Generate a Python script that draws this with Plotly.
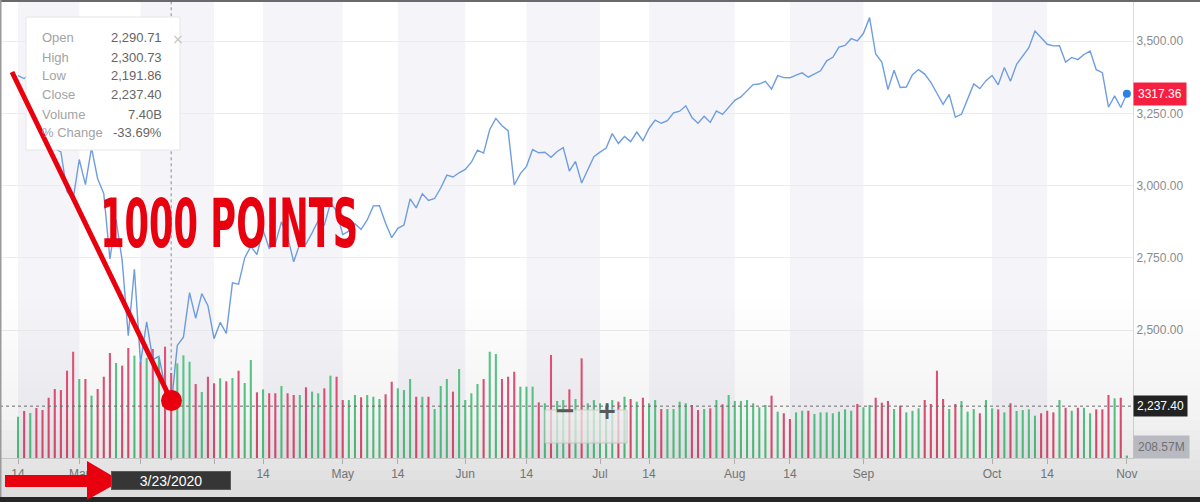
import plotly.graph_objects as go
import pandas as pd

# ---------------- data ----------------
market_holidays = ["2020-02-17", "2020-04-10", "2020-05-25", "2020-07-03", "2020-09-07"]
dates = [d.strftime("%Y-%m-%d") for d in pd.bdate_range("2020-02-14", "2020-11-02")
         if d.strftime("%Y-%m-%d") not in market_holidays]

close_values = [
    3380.16, 3370.29, 3386.15, 3373.23, 3337.75, 3225.89, 3128.21, 3116.39, 2978.76, 2954.22,
    3090.23, 3003.37, 3130.12, 3023.94, 2972.37, 2746.56, 2882.23, 2741.38, 2480.64, 2711.02,
    2386.13, 2529.19, 2398.10, 2409.39, 2304.92, 2237.40, 2447.33, 2475.56, 2630.07, 2541.47,
    2626.65, 2584.59,
    2470.50, 2526.90, 2488.65, 2663.68, 2659.41, 2749.98, 2789.82, 2761.63, 2846.06, 2783.36,
    2799.55, 2874.56, 2823.16, 2736.56, 2799.31, 2797.80, 2836.74, 2878.48, 2863.39, 2939.51,
    2912.43,
    2830.71, 2842.74, 2868.44, 2848.42, 2881.19, 2929.80, 2930.32, 2870.12, 2820.00, 2852.50,
    2863.70, 2953.91, 2922.94, 2971.61, 2948.51, 2955.45, 2991.77, 3036.13, 3029.73, 3044.31,
    3055.73, 3080.82, 3122.87, 3112.35, 3193.93, 3232.39, 3207.18, 3190.14, 3002.10, 3041.31,
    3066.59, 3124.74, 3113.49, 3115.34, 3097.74, 3117.86, 3131.29, 3050.33, 3083.76, 3009.05,
    3053.24, 3100.29,
    3115.86, 3130.01, 3179.72, 3145.32, 3169.94, 3152.05, 3185.04, 3155.22, 3197.52, 3226.56,
    3215.57, 3224.73, 3251.84, 3257.30, 3276.02, 3235.66, 3215.63, 3239.41, 3218.44, 3258.44,
    3246.22, 3271.12,
    3294.61, 3306.51, 3327.77, 3349.16, 3351.28, 3360.47, 3333.69, 3380.35, 3373.43, 3372.85,
    3381.99, 3389.78, 3374.85, 3385.51, 3397.16, 3431.28, 3443.62, 3478.73, 3484.55, 3508.01,
    3500.31,
    3526.65, 3580.84, 3455.06, 3426.96, 3331.84, 3398.96, 3339.19, 3340.97, 3383.54, 3401.20,
    3385.49, 3357.01, 3319.47, 3281.06, 3315.57, 3236.92, 3246.59, 3298.46, 3351.60, 3335.47,
    3363.00,
    3380.80, 3348.42, 3408.60, 3360.97, 3419.44, 3446.83, 3477.14, 3534.22, 3511.93, 3488.67,
    3483.34, 3483.81, 3426.92, 3443.12, 3435.56, 3453.49, 3465.39, 3400.97, 3390.68, 3271.03,
    3310.11, 3269.96,
    3317.36,
]

# volume in billions
volume_values = [
    3.59, 4.09, 3.91, 4.35, 4.17, 5.24, 6.00, 5.91, 7.59, 9.24,
    6.87, 6.87, 5.42, 6.00, 7.07, 9.13, 8.26, 8.03, 9.57, 8.90,
    8.37, 8.70, 9.48, 8.70, 9.68, 7.40, 8.23, 8.93, 8.37, 6.43,
    5.74, 7.07, 6.50, 6.93, 6.67, 6.96, 7.59, 6.52, 8.52, 5.71,
    5.97, 5.63, 5.63, 6.26, 5.63, 5.48, 5.48, 6.15, 5.77, 5.63,
    6.06, 7.16, 7.07, 5.04, 5.04, 5.48, 5.28, 5.48, 5.33, 5.13,
    5.54, 6.63, 6.06, 5.91, 6.87, 5.33, 5.33, 5.33, 4.26, 6.26,
    6.87, 5.77, 7.74, 5.04, 5.63, 6.43, 6.87, 9.24, 9.04, 6.87,
    7.07, 7.50, 6.20, 6.20, 6.20, 4.84, 4.76, 8.96, 4.96, 5.04,
    5.97, 5.13, 8.67, 4.76, 5.04, 4.76, 4.55, 5.04, 4.90, 5.33,
    5.13, 4.90, 5.24, 4.76, 5.04, 4.26, 4.26, 4.26, 4.90, 4.76,
    4.61, 4.17, 4.26, 4.32, 5.04, 4.67, 5.48, 4.96, 4.96, 5.04,
    4.76, 4.41, 4.61, 5.42, 4.03, 3.89, 3.39, 3.97, 4.11, 4.11,
    3.83, 3.97, 3.97, 3.89, 4.03, 4.23, 4.11, 4.70, 4.41, 4.61,
    5.24, 4.81, 4.96, 4.26, 4.55, 3.97, 4.11, 4.32, 5.04, 4.70,
    7.59, 5.13, 4.26, 4.70, 4.96, 4.03, 4.26, 3.89, 5.04, 4.32,
    4.23, 3.97, 4.76, 4.09, 4.17, 4.23, 3.68, 3.89, 4.11, 3.97,
    5.04, 4.37, 4.11, 4.37, 4.37, 3.89, 4.23, 4.23, 5.48, 5.19,
    5.24, 0.21,
]

# g = up day, r = down day (bar colour)
bar_direction = (
    "grgrrrrrrr" "grgrrrgrrg" "rgrgrrgggr" "grrgrgrggr" "grrgrrgrgg"
    "rgrrggrggg" "rrgggrgrgg" "grggggrggr" "rrgggrgrgg" "rgrgggggrg"
    "rgrggrgggg" "rrgrgrgggg" "gggrgrrggr" "gggggggrgg" "rrrgrgggrr"
    "rrgrgggrgg" "rgrggggrrr" "grgrggrrrg" "rg"
)

tick_dates = ["2020-02-14", "2020-03-02", "2020-03-16", "2020-04-01", "2020-04-14",
              "2020-05-01", "2020-05-14", "2020-06-01", "2020-06-15", "2020-07-01",
              "2020-07-14", "2020-08-03", "2020-08-14", "2020-09-01", "2020-10-01",
              "2020-10-14", "2020-11-02"]
# the labels of Mar 16 and Apr 1 sit under the date box in the original and are not visible
tick_labels = ["14", "Mar", "", "", "14", "May", "14", "Jun", "14", "Jul",
               "14", "Aug", "14", "Sep", "Oct", "14", "Nov"]

price_ticks = [2500, 2750, 3000, 3250, 3500]
price_tick_labels = ["2,500.00", "2,750.00", "3,000.00", "3,250.00", "3,500.00"]

selected_date = "2020-03-23"
selected_label = "3/23/2020"
tooltip_labels = ["Open", "High", "Low", "Close", "Volume", "% Change"]
tooltip_values = ["2,290.71", "2,300.73", "2,191.86", "2,237.40", "7.40B", "-33.69%"]
crosshair_price = 2237.40
last_price_label = "3317.36"
last_volume_label = "208.57M"
headline = "1000 POINTS"

# ---------------- geometry helpers (overlay decorations only) ----------------
W, H = 1200, 502
PL, PR, PT, PB = 0, 1133, 0, 458   # plot area in pixels


def fx(px):
    return (px - PL) / (PR - PL)


def fy(py):
    return 1 - (py - PT) / (PB - PT)


GREEN = "#5fca8d"
RED_BAR = "#e3587c"
RED = "#e8000e"
colors = [GREEN if c == "g" else RED_BAR for c in bar_direction]

fig = go.Figure()
fig.add_trace(go.Bar(x=dates, y=volume_values, marker_color=colors, marker_line_width=0,
                     width=0.34, yaxis="y", hoverinfo="skip"))
fig.add_trace(go.Scatter(x=dates, y=close_values, mode="lines",
                         line=dict(color="#6e9de0", width=1.4), yaxis="y2", hoverinfo="skip"))
fig.add_trace(go.Scatter(x=[dates[-1]], y=[close_values[-1]], mode="markers",
                         marker=dict(size=8, color="#2b80e2"), yaxis="y2", hoverinfo="skip"))

shapes = []
# alternating background bands between tick positions
tick_idx = [dates.index(d) for d in tick_dates]
for i in range(len(tick_idx) - 1):
    if i % 2 == 0:
        shapes.append(dict(type="rect", xref="x", yref="paper", x0=tick_idx[i], x1=tick_idx[i + 1],
                           y0=0, y1=1, fillcolor="#f5f5f9", line_width=0, layer="below"))

sel_idx = dates.index(selected_date)
# crosshair
shapes.append(dict(type="line", xref="x", yref="paper", x0=sel_idx, x1=sel_idx, y0=-0.005, y1=1,
                   line=dict(color="#8a8a8a", width=1, dash="dot"), layer="above"))
shapes.append(dict(type="line", xref="paper", yref="y2", x0=0, x1=1, y0=crosshair_price,
                   y1=crosshair_price, line=dict(color="#777777", width=1, dash="dot"), layer="above"))

# tooltip card
shapes.append(dict(type="rect", xref="paper", yref="paper", x0=fx(26), x1=fx(180), y0=fy(150), y1=fy(17),
                   fillcolor="rgba(255,255,255,0.97)", line=dict(color="#e6e6e6", width=1), layer="above"))
# zoom buttons box
shapes.append(dict(type="rect", xref="paper", yref="paper", x0=fx(545), x1=fx(627), y0=fy(443), y1=fy(410),
                   fillcolor="rgba(250,250,250,0.75)", line=dict(color="#d9d9d9", width=1), layer="above"))

# bottom vignette (video frame darkening)
for k in range(12):
    shapes.append(dict(type="rect", xref="paper", yref="paper", x0=fx(0), x1=fx(W),
                       y0=fy(497), y1=fy(300 + 10 * k), fillcolor="black", opacity=0.005,
                       line_width=0, layer="above"))
for k in range(7):
    shapes.append(dict(type="rect", xref="paper", yref="paper", x0=fx(0), x1=fx(W),
                       y0=fy(497), y1=fy(420 + 10 * k), fillcolor="black", opacity=0.012,
                       line_width=0, layer="above"))

# frame edges
shapes.append(dict(type="rect", xref="paper", yref="paper", x0=fx(0), x1=fx(W), y0=fy(2), y1=fy(0),
                   fillcolor="#6a6a6a", line_width=0, layer="above"))
shapes.append(dict(type="rect", xref="paper", yref="paper", x0=fx(0), x1=fx(W), y0=fy(H), y1=fy(497),
                   fillcolor="#262626", line_width=0, layer="above"))
shapes.append(dict(type="rect", xref="paper", yref="paper", x0=fx(0), x1=fx(1.5), y0=fy(497), y1=fy(0),
                   fillcolor="#9a9a9a", line_width=0, layer="above"))

# red overlay: line, dot and arrow
shapes.append(dict(type="line", xref="paper", yref="paper", x0=fx(12), y0=fy(72), x1=fx(171), y1=fy(400),
                   line=dict(color=RED, width=5), layer="above"))
shapes.append(dict(type="circle", xref="paper", yref="paper", x0=fx(161), x1=fx(182), y0=fy(411), y1=fy(390),
                   fillcolor=RED, line_width=0, layer="above"))
arrow_pts = [(5, 475), (87, 475), (87, 461), (121, 481), (87, 500), (87, 487), (5, 487)]
path = "M " + " L ".join(f"{fx(a):.5f},{fy(b):.5f}" for a, b in arrow_pts) + " Z"
shapes.append(dict(type="path", xref="paper", yref="paper", path=path, fillcolor=RED, line_width=0,
                   layer="above"))

annotations = []
row_y = [38, 57, 76, 95, 114, 132]
for lab, val, yy in zip(tooltip_labels, tooltip_values, row_y):
    annotations.append(dict(xref="paper", yref="paper", x=fx(40), y=fy(yy), text=lab, showarrow=False,
                            xanchor="left", yanchor="middle",
                            font=dict(family="Liberation Sans, Arial", size=13, color="#a3a3a3")))
    annotations.append(dict(xref="paper", yref="paper", x=fx(164), y=fy(yy), text=val, showarrow=False,
                            xanchor="right", yanchor="middle",
                            font=dict(family="Liberation Sans, Arial", size=13, color="#666666")))
annotations.append(dict(xref="paper", yref="paper", x=fx(170), y=fy(29), text="×", showarrow=False,
                        font=dict(family="DejaVu Sans", size=14, color="#c4c4c4")))

annotations.append(dict(xref="paper", yref="paper", x=fx(229), y=fy(223), text="<b>" + headline + "</b>",
                        showarrow=False, xanchor="center", yanchor="middle",
                        font=dict(family="DejaVu Sans", size=68, color=RED)))

# right-side value boxes
annotations.append(dict(xref="paper", yref="y2", x=1.0, y=close_values[-1], text=last_price_label,
                        showarrow=False, xanchor="left", yanchor="middle", bgcolor="#f5203f",
                        borderpad=4, font=dict(family="Liberation Sans, Arial", size=12, color="white")))
annotations.append(dict(xref="paper", yref="y2", x=1.0, y=crosshair_price, text=tooltip_values[3],
                        showarrow=False, xanchor="left", yanchor="middle", bgcolor="#222222",
                        borderpad=3, font=dict(family="Liberation Sans, Arial", size=12, color="white")))
annotations.append(dict(xref="paper", yref="paper", x=1.0, y=fy(447), text=last_volume_label,
                        showarrow=False, xanchor="left", yanchor="middle", bgcolor="#b9b9c1",
                        borderpad=4, font=dict(family="Liberation Sans, Arial", size=12, color="#707070")))

# date box under crosshair
annotations.append(dict(xref="x", yref="paper", x=sel_idx, y=fy(480), text=selected_label, showarrow=False,
                        xanchor="center", yanchor="middle", bgcolor="#363636", bordercolor="#5a5a5a",
                        borderwidth=1, width=116, height=15, borderpad=1,
                        font=dict(family="Liberation Sans, Arial", size=14, color="white")))

# zoom buttons
annotations.append(dict(xref="paper", yref="paper", x=fx(565), y=fy(427), text="<b>−</b>", showarrow=False,
                        font=dict(family="DejaVu Sans", size=26, color="#5a5a5a")))
annotations.append(dict(xref="paper", yref="paper", x=fx(607), y=fy(427), text="<b>+</b>", showarrow=False,
                        font=dict(family="DejaVu Sans", size=24, color="#5a5a5a")))

axis_font = dict(family="Liberation Sans, Arial", size=12, color="#8c8c8c")
fig.update_layout(
    width=W, height=H, autosize=False,
    margin=dict(l=PL, r=W - PR, t=PT, b=H - PB),
    paper_bgcolor="white", plot_bgcolor="white",
    showlegend=False, hovermode=False,
    xaxis=dict(type="category", range=[-2.94, 182.0], tickmode="array",
               tickvals=tick_dates, ticktext=tick_labels, ticks="outside", ticklen=5,
               tickcolor="#c8c8c8", showgrid=False, showline=True, linecolor="#dddddd",
               tickfont=axis_font, zeroline=False, fixedrange=True),
    yaxis=dict(range=[0, 458 / 11.5], visible=False, fixedrange=True),
    yaxis2=dict(overlaying="y", side="right", range=[2058.1, 3641.8], tickmode="array",
                tickvals=price_ticks, ticktext=price_tick_labels, showgrid=True,
                gridcolor="#ececec", gridwidth=1, showline=True, linecolor="#dcdcdc",
                ticks="", tickfont=axis_font, zeroline=False, fixedrange=True),
    shapes=shapes,
    annotations=annotations,
)

# page without body margin; headline squeezed horizontally to the condensed look of the original
post_js = """
document.body.style.margin='0px';
document.body.style.overflow='hidden';
var gd = document.getElementById('{plot_id}');
gd.querySelectorAll('g.annotation').forEach(function(a){
  var t = a.querySelector('text');
  if (t && t.textContent.trim() === '%s') {
    var bb = t.getBBox();
    var cx = bb.x + bb.width / 2, cy = bb.y + bb.height / 2;
    var sx = 258 / bb.width;
    t.setAttribute('transform', 'translate(' + cx + ',' + cy + ') scale(' + sx + ',1) translate(' + (-cx) + ',' + (-cy) + ')');
  }
});
""" % headline

fig.write_html("out.html", post_script=post_js, config={"displayModeBar": False})
